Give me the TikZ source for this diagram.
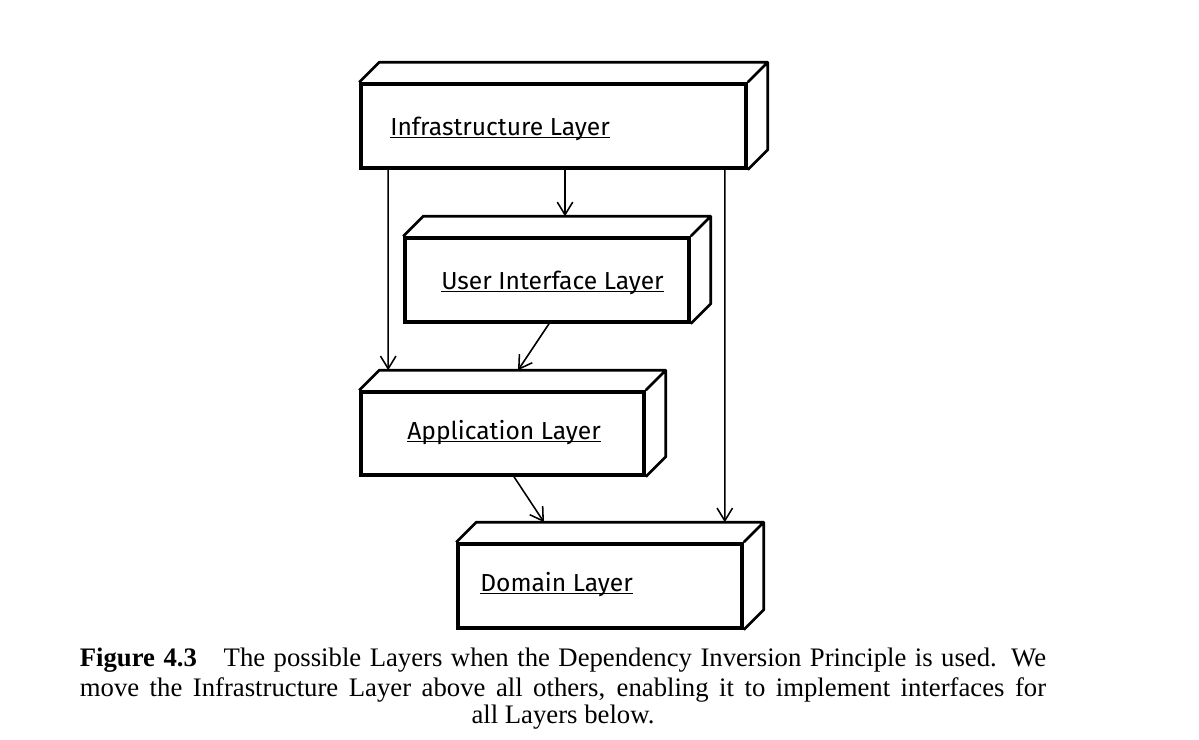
\documentclass[tikz,border=0pt]{standalone}
\usepackage{fontspec}
\setmainfont{Liberation Serif}
\newfontfamily\layerfont{Fira Sans}
\usetikzlibrary{arrows.meta,calc}

\tikzset{
  layer/.style={draw, line width=2.5pt, minimum height=2.1cm, inner sep=0pt},
  depth/.style={line width=1.9pt, line join=round},
  layername/.style={font=\layerfont\fontsize{17.5}{20}\selectfont, inner sep=0pt, anchor=base west},
  uline/.style={line width=0.9pt},
  dep/.style={line width=1.1pt, -{Straight Barb[length=9pt,width=11pt]}},
  caption/.style={font=\fontsize{19}{22}\selectfont, inner sep=0pt, anchor=base}
}

\begin{document}
\begin{tikzpicture}[x=0.025cm,y=-0.025cm]
\useasboundingbox (0,0) rectangle (1199,740);
% the four layers
\node[layer, minimum width=9.625cm] (infra) at (553.5,126) {};
\node[layer, minimum width=7.1cm] (ui) at (547,280) {};
\node[layer, minimum width=7.075cm, minimum height=2.075cm] (app) at (502.5,433.5) {};
\node[layer, minimum width=7.1cm] (dom) at (600,586) {};
\foreach \n in {infra,ui,app,dom}
  \draw[depth] (\n.north west) -- ++(20,-20) -| ($(\n.south east)+(20,-20)$) -- (\n.south east)
    (\n.north east) -- ++(20,-20);

% names
\node[layername] (infralbl) at (390,136) {Infrastructure Layer};
\node[layername] (uilbl) at (441,290) {User Interface Layer};
\node[layername] (applbl) at (407,440) {Application Layer};
\node[layername] (domlbl) at (480,592) {Domain Layer};
\foreach \n in {infralbl,uilbl,applbl,domlbl}
  \draw[uline] ([yshift=-1.2pt]\n.base west) -- ([yshift=-1.2pt]\n.base east);

% dependencies
\draw[dep] ($(infra.south)+(11.5,0)$) -- ($(ui.north)+(18,-20)$);
\draw[dep] ($(infra.south west)+(29,0)$) -- ($(app.north west)+(29,-20)$);
\draw[dep] ($(infra.south east)+(-23,0)$) -- ($(dom.north east)+(-19,-20)$);
\draw[dep] ($(ui.south)+(2,0)$) -- ($(app.north)+(15.5,-20)$);
\draw[dep] ($(app.south)+(11.5,0)$) -- ($(dom.north)+(-56,-20)$);

% caption
\node[caption] (cap1) at (563,667) {\makebox[24.15cm][s]{\textbf{Figure 4.3}\quad The possible Layers when the Dependency Inversion Principle is used. We}};
\node[caption] (cap2) at (563,697) {\makebox[24.15cm][s]{move the Infrastructure Layer above all others, enabling it to implement interfaces for}};
\node[caption] (cap3) at (563,724) {all Layers below.};
\end{tikzpicture}
\end{document}
